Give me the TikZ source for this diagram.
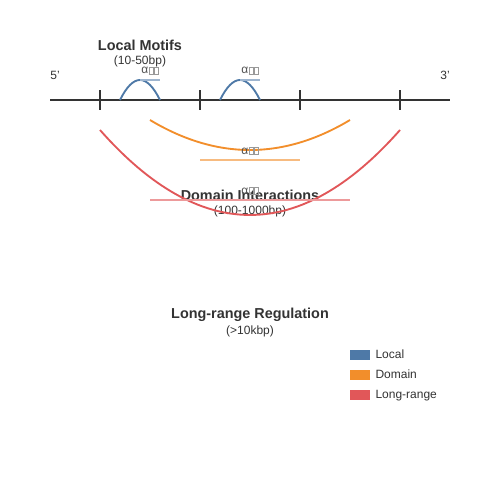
\documentclass[tikz,border=0pt]{standalone}
\usepackage{fontspec}
\setmainfont{Liberation Sans}
\usepackage{tikz}
\definecolor{localc}{HTML}{4E79A7}
\definecolor{domainc}{HTML}{F28E2B}
\definecolor{longc}{HTML}{E15759}
\definecolor{inkc}{HTML}{333333}
\newcommand{\tofu}{{\color{gray!80}\fboxsep=0pt\fboxrule=0.35pt\fbox{\rule{0pt}{5.2pt}\rule{3.1pt}{0pt}}}}
\newcommand{\alphalab}{α\kern0.2pt\tofu\tofu}
\tikzset{
  title/.style={font=\bfseries\fontsize{10.8}{12}\selectfont, text=inkc, inner sep=0pt},
  sub/.style={font=\fontsize{9}{10}\selectfont, text=inkc, inner sep=0pt},
  tag/.style={font=\fontsize{9}{10}\selectfont, text=inkc!85, inner sep=0pt},
  keytext/.style={sub, text height=6.5pt, text depth=2pt, anchor=west},
  strand/.style={line width=1.5pt, inkc},
  loop/.style={line width=1.4pt},
  keybox/.style={minimum width=15pt, minimum height=7.5pt, inner sep=0pt}
}
\begin{document}
\begin{tikzpicture}[x=0.75pt, y=-0.75pt]
    \useasboundingbox (0,0) rectangle (500,500);

    % Strand with ticks
    \coordinate (five) at (50,100);
    \coordinate (three) at (450,100);
    \draw[strand] (five) -- (three);
    \foreach \x/\n in {100/t1, 200/t2, 300/t3, 400/t4}{
        \coordinate (\n) at (\x,100);
        \draw[strand] (\x,90) -- (\x,110);
    }
    \node[sub] (fivelab) at (55,75) {5'};
    \node[sub] (threelab) at (445,75) {3'};

    % Titles
    \node[title] (localt) at (140,45) {Local Motifs};
    \node[sub] (locals) at (140,61) {(10-50bp)};
    \node[title] (domaint) at (250,195) {Domain Interactions};
    \node[sub] (domains) at (250,211) {(100-1000bp)};
    \node[title] (longt) at (250,315) {Long-range Regulation};
    \node[sub] (longs) at (250,331) {(>10kbp)};

    % Local motifs
    \foreach \a/\b/\m in {120/160/140, 220/260/240}{
        \draw[loop, localc] (\a,100) .. controls (\a+13.3,73.3) and (\b-13.3,73.3) .. (\b,100);
        \draw[localc!55, line width=1.2pt] (\m,80) -- (\b,80);
        \node[tag] at (\m+10,70.5) {\alphalab};
    }

    % Domain interaction
    \coordinate (d1) at (150,120);
    \coordinate (d2) at (350,120);
    \draw[loop, domainc] (d1) .. controls (216.7,160) and (283.3,160) .. (d2);
    \draw[domainc!60, line width=1.2pt] (200,160) -- (300,160);
    \node[tag] (dlab) at (250,151) {\alphalab};

    % Long-range regulation
    \coordinate (l1) at (100,130);
    \coordinate (l2) at (400,130);
    \draw[loop, longc] (l1) .. controls (200,243.3) and (300,243.3) .. (l2);
    \draw[longc!60, line width=1.2pt] (150,200) -- (350,200);
    \node[tag] (llab) at (250,191) {\alphalab};

    % Legend
    \foreach \y/\c/\t in {355/localc/Local, 375/domainc/Domain, 395/longc/Long-range}{
        \node[keybox, fill=\c] (key\c) at (360,\y) {};
        \node[keytext] at ([xshift=3.75pt]key\c.east) {\t};
    }
\end{tikzpicture}
\end{document}
